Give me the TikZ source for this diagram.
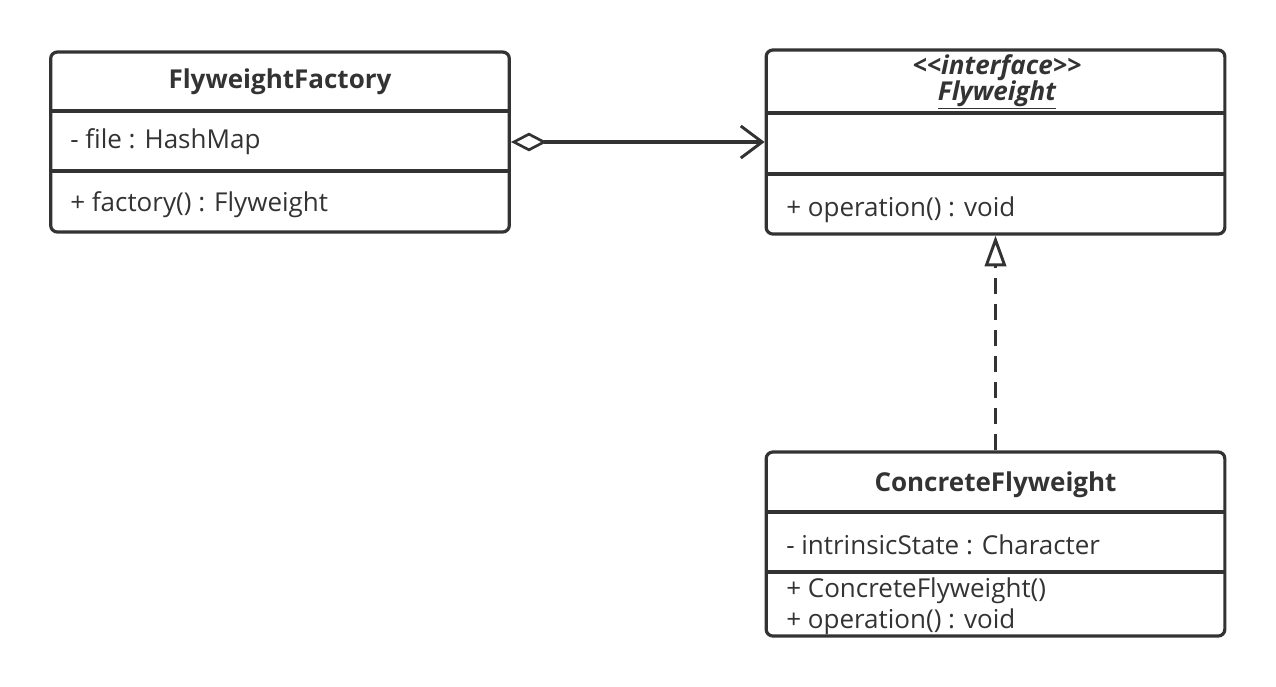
\documentclass[tikz,border=0pt]{standalone}
\usepackage{fontspec}
\setmainfont{Open Sans}
\usetikzlibrary{positioning,calc,arrows.meta}
\usepackage{xcolor}
\definecolor{umlgray}{RGB}{51,51,51}

\begin{document}
\begin{tikzpicture}[x=0.75pt, y=-0.75pt,
    classbox/.style={draw=umlgray, line width=2.4pt, rounded corners=5pt,
                     minimum width=344pt, minimum height=#1, inner sep=0pt},
    divider/.style={umlgray, line width=2.4pt},
    classtitle/.style={font=\fontsize{19.5}{23}\selectfont\bfseries, text=umlgray},
    member/.style={font=\fontsize{19.5}{23}\selectfont, text=umlgray, anchor=west, inner sep=0pt},
    connector/.style={umlgray, line width=2.4pt}
]

\useasboundingbox (0,0) rectangle (1276,686);

% FlyweightFactory
\node[classbox=135pt] (factory) at (280,142) {};
\draw[divider] (factory.west |- 0,111) -- (factory.east |- 0,111);
\draw[divider] (factory.west |- 0,171) -- (factory.east |- 0,171);
\node[classtitle] (factorytitle) at (280,82) {FlyweightFactory};
\node[member] (factoryattr) at (70,142) {- file : HashMap};
\node[member] (factoryop) at (70,205) {+ factory() : Flyweight};

% Flyweight interface
\node[classbox=138pt] (flyweight) at (995.5,142) {};
\draw[divider] (flyweight.west |- 0,113) -- (flyweight.east |- 0,113);
\draw[divider] (flyweight.west |- 0,174) -- (flyweight.east |- 0,174);
\node[classtitle, font=\fontsize{19.5}{23}\selectfont\bfseries\itshape] (stereotype) at (997,68) {{<}{<}interface{>}{>}};
\node[classtitle, font=\fontsize{19.5}{23}\selectfont\bfseries\itshape] (flyweighttitle) at (997,95) {\underline{Flyweight}};
\node[member] (flyweightop) at (786,210) {+ operation() : void};

% ConcreteFlyweight
\node[classbox=138pt] (concrete) at (995.5,544) {};
\draw[divider] (concrete.west |- 0,512) -- (concrete.east |- 0,512);
\draw[divider] (concrete.west |- 0,572) -- (concrete.east |- 0,572);
\node[classtitle] (concretetitle) at (995.5,485) {ConcreteFlyweight};
\node[member] (concreteattr) at (786,545) {- intrinsicState : Character};
\node[member] (concreteop1) at (786,591) {+ ConcreteFlyweight()};
\node[member] (concreteop2) at (786,622) {+ operation() : void};

% connectors
\draw[connector, {Diamond[open, length=27pt, width=14pt, line width=2pt]}-{Straight Barb[length=16pt, width=24pt, line width=2.2pt]}]
    (factory.east) -- (flyweight.west);
\draw[connector, dash pattern=on 12pt off 7.5pt, -{Triangle[open, length=23pt, width=16pt, line width=2.2pt]}]
    (concrete.north) -- (flyweight.south);

\end{tikzpicture}
\end{document}
